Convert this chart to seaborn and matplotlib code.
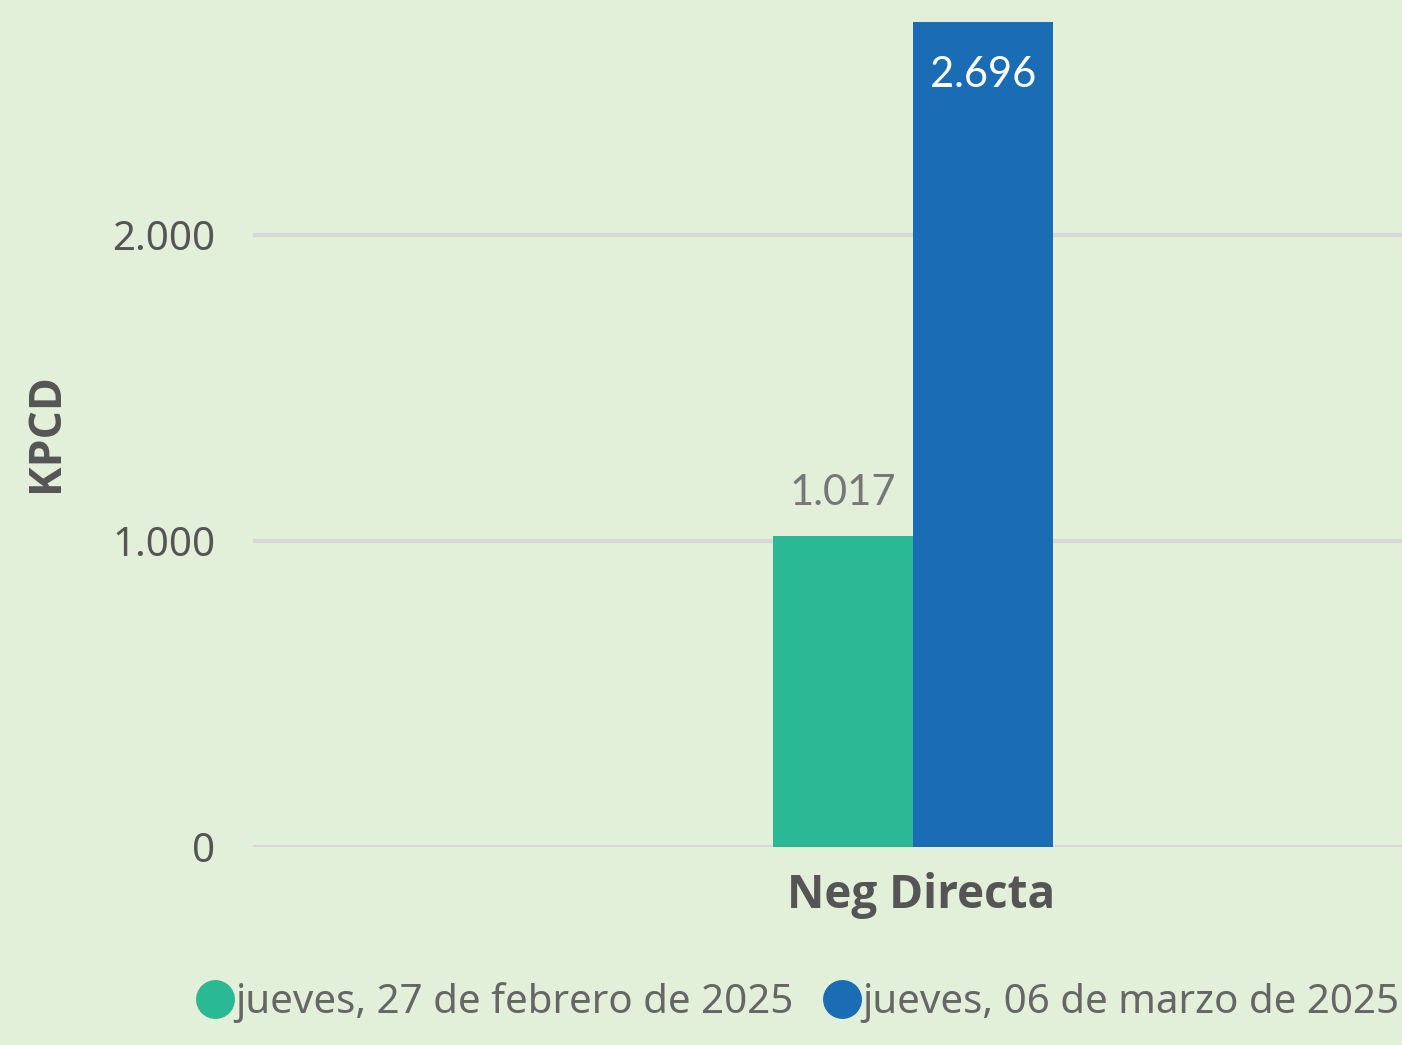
import matplotlib
matplotlib.use("Agg")
import matplotlib.pyplot as plt
import matplotlib.transforms as mtransforms
import seaborn as sns
import pandas as pd
from matplotlib.lines import Line2D

categories = ["Neg Directa"]
series_names = ["jueves, 27 de febrero de 2025", "jueves, 06 de marzo de 2025"]
values_feb27 = [1017]
values_mar06 = [2696]
label_feb27 = ["1.017"]
label_mar06 = ["2.696"]
ytick_values = [0, 1000, 2000]
ytick_labels = ["0", "1.000", "2.000"]

colors = ["#2bb894", "#1a6db4"]
bg = "#e2efd9"

df = pd.DataFrame({
    "cat": categories * 2,
    "serie": [series_names[0]] * len(categories) + [series_names[1]] * len(categories),
    "val": values_feb27 + values_mar06,
})

sns.set_theme(style="white")
plt.rcParams["font.family"] = ["Noto Sans", "DejaVu Sans"]

W, H = 1402, 1045
fig = plt.figure(figsize=(W / 100, H / 100), dpi=100, facecolor=bg)
ax = fig.add_axes([253 / W, (H - 847) / H, 1 - 253 / W, 847 / H])
ax.set_facecolor(bg)

sns.barplot(data=df, x="cat", y="val", hue="serie", palette=colors,
            width=0.8, saturation=1, ax=ax, legend=False, zorder=3,
            linewidth=0, edgecolor="none")

ax.set_xlim(-1.88, 1.393)
ax.set_ylim(0, 2767)
ax.set_yticks(ytick_values)
ax.set_yticklabels(ytick_labels, color="#555555", fontsize=29)
ax.grid(axis="y", color="#d8d8d8", linewidth=3, zorder=0)
ax.grid(axis="x", visible=False)
ax.set_axisbelow(True)
ax.tick_params(axis="y", length=0, pad=27)
ax.tick_params(axis="x", length=0, pad=18)
shift = mtransforms.ScaledTranslation(8 / 100, 0, fig.dpi_scale_trans)
for lbl in ax.get_xticklabels():
    lbl.set_fontsize(33)
    lbl.set_fontweight("bold")
    lbl.set_family(["Open Sans", "DejaVu Sans"])
    lbl.set_color("#555555")
    lbl.set_transform(lbl.get_transform() + shift)
for s in ax.spines.values():
    s.set_visible(False)
ax.set_xlabel("")
ax.set_ylabel("")

# data labels
c0, c1 = ax.containers[0], ax.containers[1]
ax.bar_label(c0, labels=label_feb27, padding=17, color="#777777",
             fontsize=30, family=["Lato", "DejaVu Sans"])
ax.bar_label(c1, labels=label_mar06, padding=-52, color="white",
             fontsize=30, family=["Lato", "DejaVu Sans"])

fig.text(46 / W, 1 - 433 / H, "KPCD", rotation=90, ha="center", va="center",
         fontsize=32, fontweight="bold", color="#555555",
         family=["Open Sans", "DejaVu Sans"])

handles = [Line2D([], [], marker="o", linestyle="", markersize=27,
                  markerfacecolor=c, markeredgecolor=c) for c in colors]
fig.legend(handles, series_names, loc="center left",
           bbox_to_anchor=(195 / W, 42 / H), ncol=2, frameon=False,
           fontsize=29, labelcolor="#666666", handletextpad=0.0,
           columnspacing=0.7, handlelength=1.0, borderpad=0, borderaxespad=0)

fig.savefig("out.png", dpi=100, facecolor=bg)
